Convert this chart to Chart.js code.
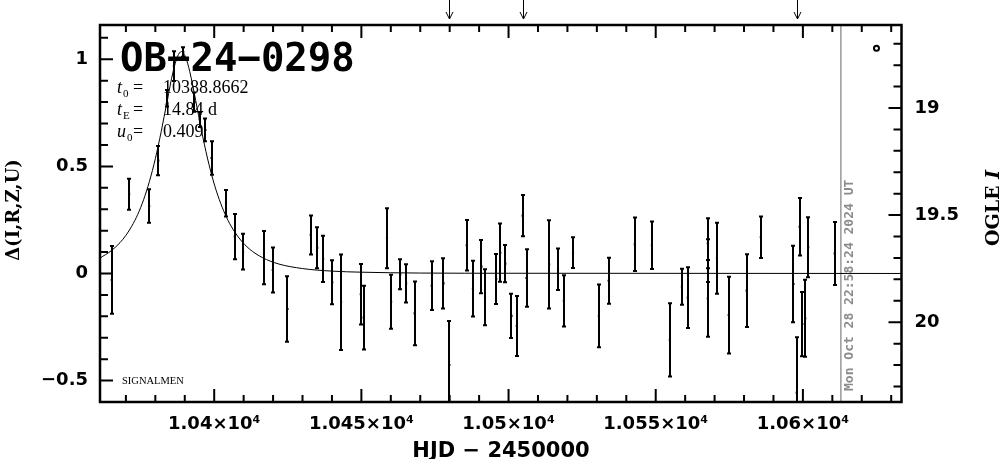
<!DOCTYPE html>
<html>
<head>
<meta charset="utf-8">
<script src="https://cdn.jsdelivr.net/npm/chart.js@4.4.1/dist/chart.umd.min.js"></script>
<style>
  html, body { margin: 0; padding: 0; background: #fff; }
  #wrap { width: 1004px; height: 459px; position: relative; }
</style>
</head>
<body>
<div id="wrap"><canvas id="lc"></canvas></div>
<script>
// OB-24-0298 light curve, EWS style page

// observations: HJD - 2450000, delta mag, error
const obsDays = [10365.2, 10371.1, 10377.9, 10381.0, 10384.0, 10386.3, 10389.5, 10393.3, 10395.1, 10397.0,
    10399.1, 10404.0, 10407.0, 10409.8, 10416.9, 10419.9, 10424.9, 10432.8, 10435.0, 10437.0,
    10440.1, 10443.1, 10449.8, 10450.8, 10458.7, 10460.1, 10463.2, 10465.2, 10468.1, 10473.9,
    10477.9, 10479.9, 10485.8, 10487.9, 10490.8, 10492.0, 10495.8, 10497.2, 10498.9, 10501.0,
    10502.8, 10504.8, 10506.1, 10513.8, 10516.8, 10518.8, 10521.9, 10530.7, 10534.0, 10542.9,
    10548.7, 10554.8, 10558.9, 10560.9, 10567.7, 10567.7, 10567.7, 10570.8, 10574.8, 10580.9,
    10585.7, 10596.8, 10597.9, 10598.9, 10599.8, 10600.8, 10601.8, 10610.8];
const obsDmag = [-0.030, 0.370, 0.315, 0.527, 0.818, 0.968, 1.034, 0.800, 0.719, 0.670,
    0.539, 0.328, 0.172, 0.102, 0.074, 0.016, -0.166, 0.180, 0.120, 0.068,
    -0.041, -0.134, -0.097, -0.206, 0.164, -0.132, -0.004, -0.046, -0.186, -0.057,
    -0.046, -0.427, 0.132, -0.071, 0.032, -0.111, -0.026, 0.097, 0.046, -0.198,
    -0.245, 0.270, -0.021, 0.043, 0.020, -0.128, 0.097, -0.198, -0.034, 0.136,
    0.132, -0.310, -0.062, -0.113, 0.141, 0.060, -0.116, 0.071, -0.194, -0.080,
    0.169, -0.049, -0.556, 0.218, -0.236, -0.209, 0.122, 0.093];
const obsErr = [0.158, 0.072, 0.078, 0.068, 0.039, 0.070, 0.022, 0.045, 0.035, 0.053,
    0.078, 0.062, 0.106, 0.083, 0.124, 0.105, 0.153, 0.091, 0.096, 0.108,
    0.103, 0.223, 0.141, 0.149, 0.140, 0.126, 0.070, 0.089, 0.149, 0.114,
    0.117, 0.205, 0.118, 0.130, 0.124, 0.131, 0.117, 0.136, 0.087, 0.103,
    0.140, 0.096, 0.134, 0.206, 0.097, 0.120, 0.072, 0.146, 0.107, 0.125,
    0.111, 0.171, 0.084, 0.142, 0.117, 0.100, 0.179, 0.166, 0.179, 0.170,
    0.097, 0.179, 0.258, 0.134, 0.150, 0.180, 0.140, 0.147];

// model curve
const modelDays = [10361.2, 10365, 10368, 10370, 10372, 10374, 10376, 10378, 10380, 10382,
    10384, 10386, 10387.5, 10388.87, 10390.2, 10391.7, 10393.7, 10395.7, 10397.7, 10399.7,
    10401.7, 10403.7, 10405.7, 10408.7, 10412, 10416.4, 10422, 10430, 10440, 10450,
    10470, 10500, 10633.5];
const modelDmag = [0.072, 0.106, 0.144, 0.178, 0.221, 0.275, 0.344, 0.430, 0.536, 0.663,
    0.804, 0.940, 1.012, 1.036, 1.013, 0.942, 0.808, 0.666, 0.539, 0.432,
    0.346, 0.277, 0.222, 0.161, 0.114, 0.074, 0.044, 0.023, 0.011, 0.006,
    0.002, 0.001, 0.000];

// marked points (arrows on top), time of page, baseline marker
const arrowDays = [10479.9, 10504.8, 10597.9];
const nowDay = 10612.9;
const markerDays = [10625.0];
const markerDmag = [1.052];

const xTicks = [10400, 10450, 10500, 10550, 10600];
const xTickLabels = ['1.04×10⁴', '1.045×10⁴', '1.05×10⁴', '1.055×10⁴', '1.06×10⁴'];
const yTicks = [-0.5, 0, 0.5, 1];
const yTickLabels = ['−0.5', '0', '0.5', '1'];
const magTicks = [19, 19.5, 20];
const magTickLabels = ['19', '19.5', '20'];

const X_MIN = 10361.2, X_MAX = 10633.5;
const Y_MIN = -0.6, Y_MAX = 1.16;
const MAG_BASE = 19.7725;

const tickFont = { family: 'DejaVu Sans', size: 18, weight: 'bold' };

function toXY(xs, ys) {
    return xs.map((v, i) => ({ x: v, y: ys[i] }));
}

// subscripted parameter line, e.g. t_0 = 10388.8662
function drawParam(ctx, x, y, sym, sub, value) {
    ctx.font = 'italic 18px "Liberation Serif"';
    ctx.fillText(sym, x, y);
    const w = ctx.measureText(sym).width;
    ctx.font = '11px "Liberation Serif"';
    ctx.fillText(sub, x + w + 1, y + 4);
    ctx.font = '18px "Liberation Serif"';
    ctx.fillText('=', x + 16, y);
    ctx.fillText(value, x + 46, y);
}

const lcPlugin = {
    id: 'lcExtras',
    beforeDatasetsDraw(chart) {
        const { ctx, chartArea: a, scales: { x } } = chart;
        // vertical line at page time
        const px = x.getPixelForValue(nowDay);
        ctx.save();
        ctx.strokeStyle = '#999';
        ctx.lineWidth = 1.5;
        ctx.beginPath();
        ctx.moveTo(px, a.top);
        ctx.lineTo(px, a.bottom);
        ctx.stroke();
        ctx.translate(px + 9, a.bottom - 11);
        ctx.rotate(-Math.PI / 2);
        ctx.fillStyle = '#8c8c8c';
        ctx.font = 'bold 13px "DejaVu Sans Mono"';
        ctx.textBaseline = 'middle';
        ctx.fillText('Mon Oct 28 22:58:24 2024 UT', 0, 0);
        ctx.restore();
    },
    afterDatasetsDraw(chart) {
        const { ctx, chartArea: a, scales: { x, y } } = chart;
        ctx.save();
        ctx.beginPath();
        ctx.rect(a.left, a.top, a.right - a.left, a.bottom - a.top);
        ctx.clip();
        ctx.strokeStyle = '#000';
        ctx.lineWidth = 2;
        ctx.beginPath();
        obsDays.forEach((d, i) => {
            const px = Math.round(x.getPixelForValue(d));
            const y1 = y.getPixelForValue(obsDmag[i] + obsErr[i]);
            const y2 = y.getPixelForValue(obsDmag[i] - obsErr[i]);
            ctx.moveTo(px, y1);
            ctx.lineTo(px, y2);
            ctx.moveTo(px - 2, y1);
            ctx.lineTo(px + 2, y1);
            ctx.moveTo(px - 2, y2);
            ctx.lineTo(px + 2, y2);
        });
        ctx.stroke();
        ctx.restore();
    },
    afterDraw(chart) {
        const { ctx, chartArea: a, scales: { x, y, y2 } } = chart;
        ctx.save();
        ctx.strokeStyle = '#000';
        ctx.fillStyle = '#000';

        // inward ticks
        ctx.lineWidth = 2;
        ctx.beginPath();
        for (let d = 10370; d <= X_MAX; d += 10) {
            const px = x.getPixelForValue(d);
            const len = d % 50 === 0 ? 13 : 7;
            ctx.moveTo(px, a.bottom);
            ctx.lineTo(px, a.bottom - len);
            ctx.moveTo(px, a.top);
            ctx.lineTo(px, a.top + len);
        }
        for (let k = -5; k <= 11; k++) {
            const py = y.getPixelForValue(k / 10);
            ctx.moveTo(a.left, py);
            ctx.lineTo(a.left + (k % 5 === 0 ? 13 : 8), py);
        }
        for (let k = 187; k <= 203; k++) {
            const py = y2.getPixelForValue(k / 10);
            ctx.moveTo(a.right, py);
            ctx.lineTo(a.right - (k % 5 === 0 ? 13 : 8), py);
        }
        ctx.stroke();

        // frame
        ctx.lineWidth = 2.5;
        ctx.strokeRect(a.left, a.top, a.right - a.left, a.bottom - a.top);

        // arrows above the frame
        ctx.lineWidth = 1;
        ctx.beginPath();
        arrowDays.forEach(d => {
            const px = Math.round(x.getPixelForValue(d)) + 0.5;
            ctx.moveTo(px, 0);
            ctx.lineTo(px, 19);
            ctx.moveTo(px - 3.5, 12);
            ctx.lineTo(px, 19);
            ctx.lineTo(px + 3.5, 12);
        });
        ctx.stroke();

        // event name and parameters
        ctx.textBaseline = 'alphabetic';
        ctx.font = 'bold 39px "DejaVu Sans Mono"';
        ctx.fillText('OB−24−0298', 120, 71);
        drawParam(ctx, 117, 93, 't', '0', '10388.8662');
        drawParam(ctx, 117, 115, 't', 'E', '14.84 d');
        drawParam(ctx, 117, 137, 'u', '0', '0.409');

        ctx.font = '10.5px "Liberation Serif"';
        ctx.fillText('SIGNALMEN', 122, 384);

        // axis titles
        ctx.font = 'bold 21px "DejaVu Sans"';
        ctx.textAlign = 'center';
        ctx.fillText('HJD − 2450000', 501, 457);

        ctx.save();
        ctx.translate(19, 210);
        ctx.rotate(-Math.PI / 2);
        ctx.font = 'bold 18px "DejaVu Serif"';
        ctx.fillText('Δ(I,R,Z,U)', 0, 0);
        ctx.restore();

        ctx.save();
        ctx.translate(999, 208);
        ctx.rotate(-Math.PI / 2);
        ctx.textAlign = 'left';
        ctx.font = 'bold 19px "DejaVu Serif"';
        const w1 = ctx.measureText('OGLE ').width;
        ctx.font = 'bold italic 19px "DejaVu Serif"';
        const w2 = ctx.measureText('I').width;
        const x0 = -(w1 + w2) / 2;
        ctx.font = 'bold 19px "DejaVu Serif"';
        ctx.fillText('OGLE ', x0, 0);
        ctx.font = 'bold italic 19px "DejaVu Serif"';
        ctx.fillText('I', x0 + w1, 0);
        ctx.restore();

        ctx.restore();
    }
};

new Chart(document.getElementById('lc'), {
    type: 'scatter',
    data: {
        datasets: [{
            label: 'model',
            type: 'line',
            data: toXY(modelDays, modelDmag),
            borderColor: '#000',
            borderWidth: 1,
            pointRadius: 0,
            cubicInterpolationMode: 'monotone',
            fill: false
        }, {
            label: 'obs',
            data: toXY(obsDays, obsDmag),
            pointStyle: 'rect',
            pointRadius: 1.5,
            backgroundColor: '#000',
            borderWidth: 0
        }, {
            label: 'marker',
            data: toXY(markerDays, markerDmag),
            pointStyle: 'circle',
            pointRadius: 2.5,
            borderColor: '#000',
            borderWidth: 2,
            backgroundColor: '#fff'
        }]
    },
    options: {
        responsive: true,
        maintainAspectRatio: false,
        animation: false,
        layout: { padding: { top: 25, left: 0, right: 0, bottom: 0 } },
        plugins: { legend: { display: false }, tooltip: { enabled: false } },
        scales: {
            x: {
                type: 'linear', position: 'bottom', min: X_MIN, max: X_MAX,
                afterBuildTicks: s => { s.ticks = xTicks.map(v => ({ value: v })); },
                afterFit: s => { s.height = 57; },
                grid: { display: false, drawTicks: false },
                border: { display: false },
                ticks: {
                    callback: (v, i) => xTickLabels[i],
                    padding: 12, color: '#000', font: tickFont,
                    maxRotation: 0, autoSkip: false
                }
            },
            y: {
                type: 'linear', position: 'left', min: Y_MIN, max: Y_MAX,
                afterBuildTicks: s => { s.ticks = yTicks.map(v => ({ value: v })); },
                afterFit: s => { s.width = 100; },
                grid: { display: false, drawTicks: false },
                border: { display: false },
                ticks: {
                    callback: (v, i) => yTickLabels[i],
                    padding: 12, color: '#000', font: tickFont
                }
            },
            y2: {
                type: 'linear', position: 'right', reverse: true,
                min: MAG_BASE - Y_MAX, max: MAG_BASE - Y_MIN,
                afterBuildTicks: s => { s.ticks = magTicks.map(v => ({ value: v })); },
                afterFit: s => { s.width = 102.5; },
                grid: { display: false, drawTicks: false },
                border: { display: false },
                ticks: {
                    callback: (v, i) => magTickLabels[i],
                    padding: 13, color: '#000', font: tickFont
                }
            }
        }
    },
    plugins: [lcPlugin]
});
</script>
</body>
</html>
